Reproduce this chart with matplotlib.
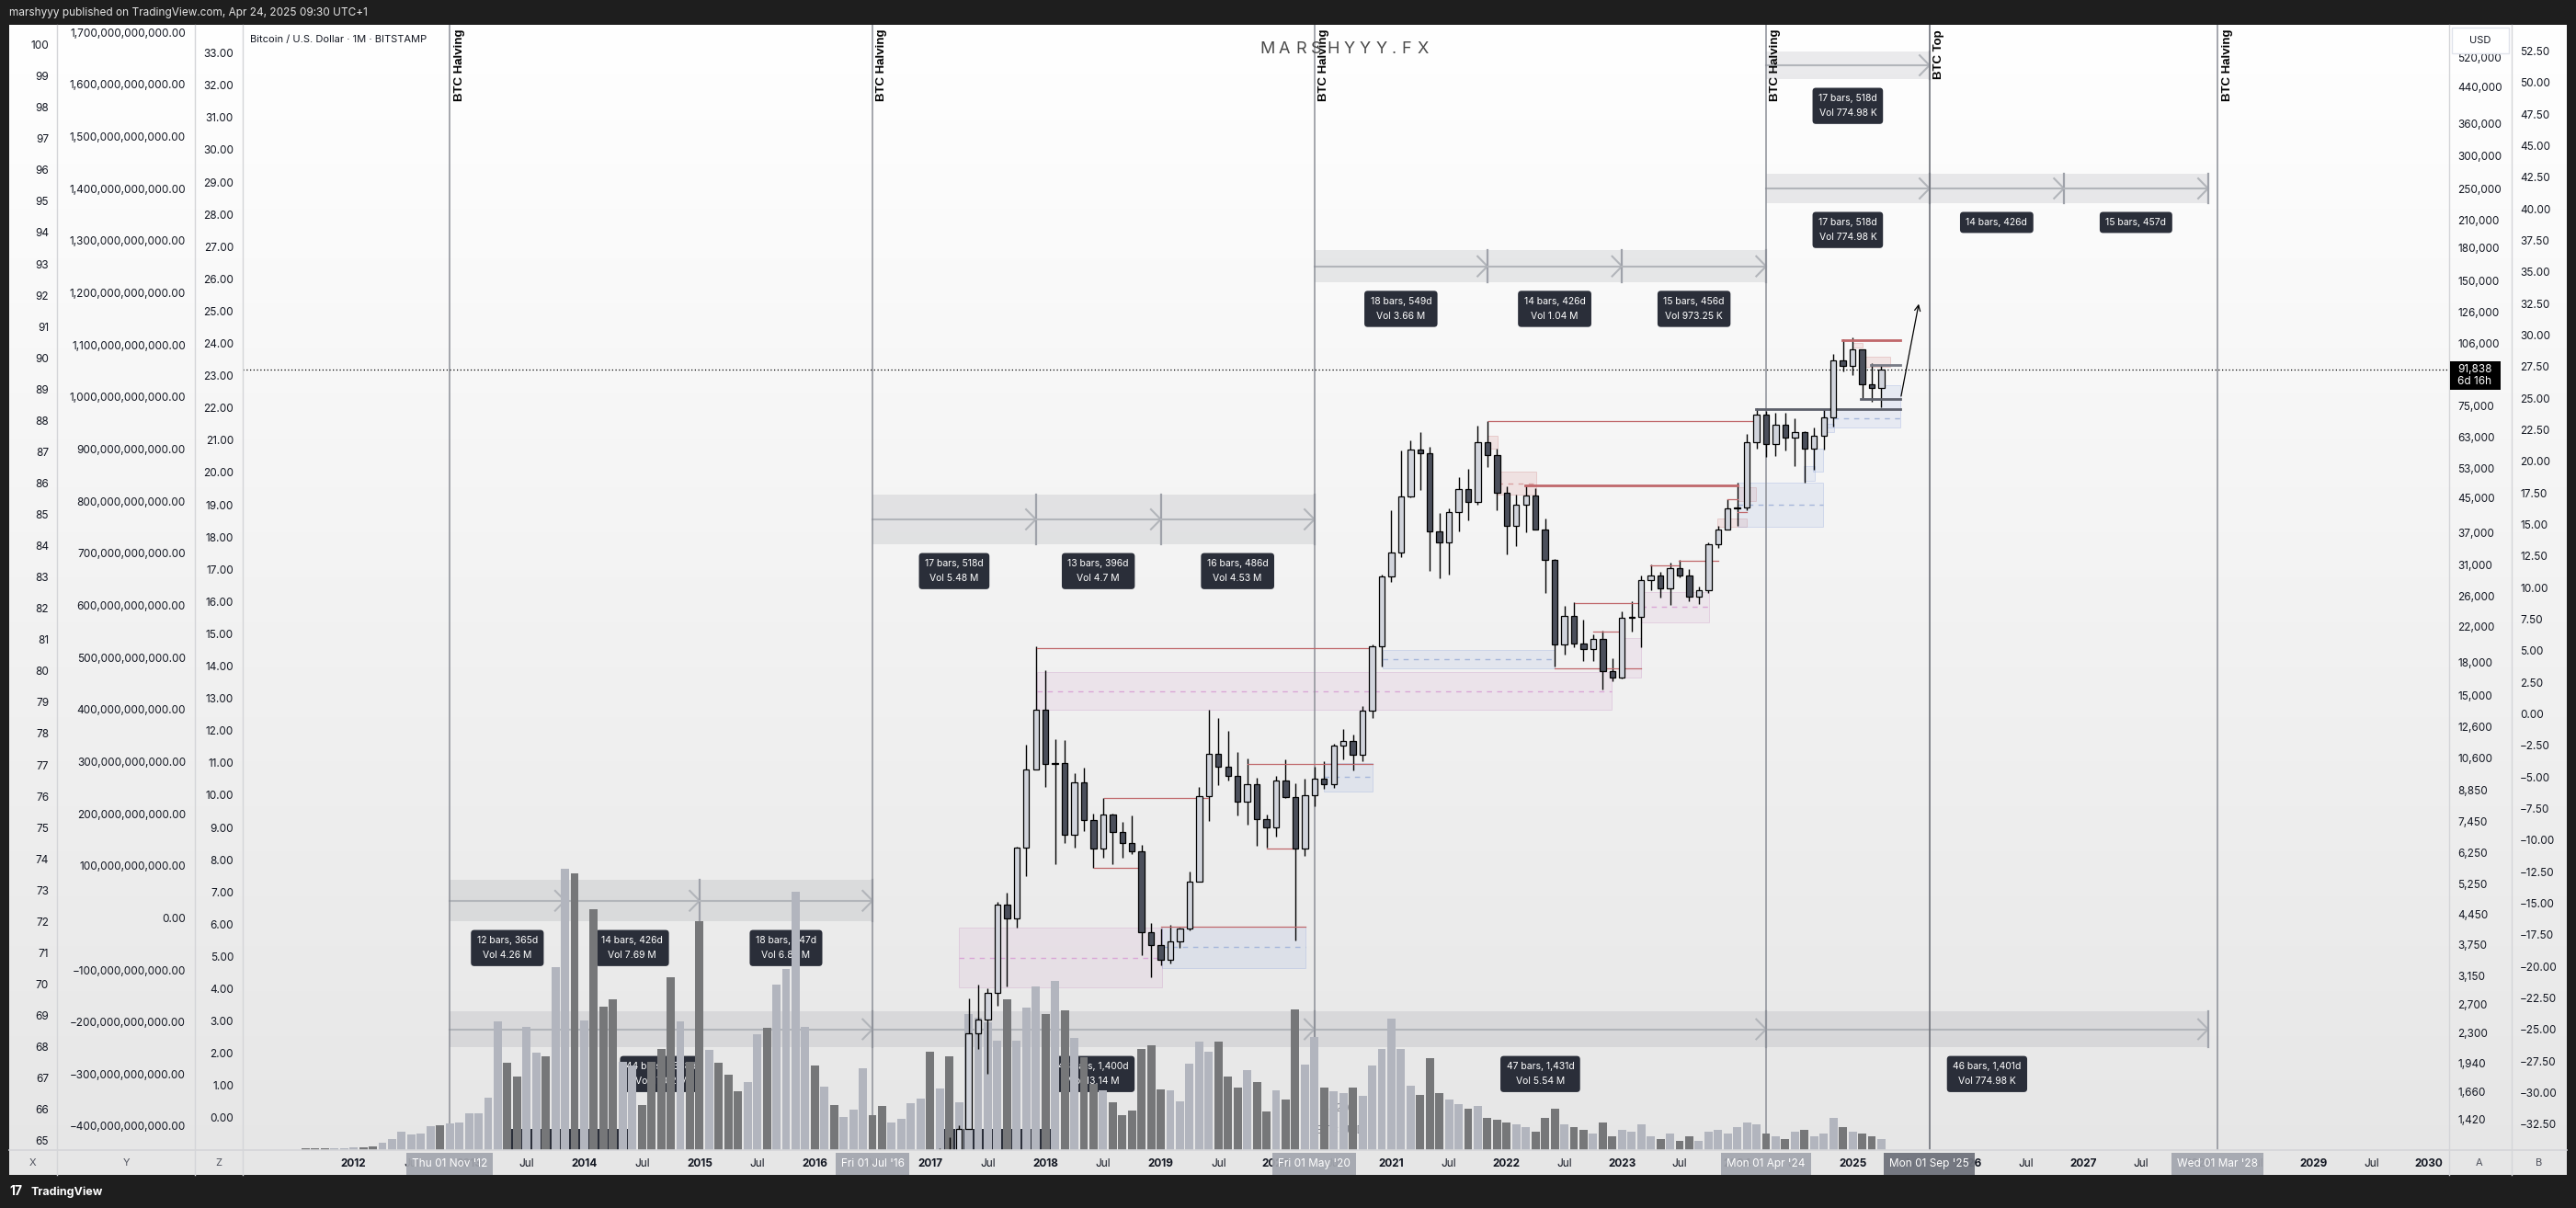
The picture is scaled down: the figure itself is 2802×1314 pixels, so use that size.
import matplotlib
matplotlib.use("Agg")
import matplotlib.pyplot as plt
import numpy as np
from matplotlib.colors import LinearSegmentedColormap
from matplotlib.lines import Line2D
from matplotlib.patches import Rectangle

plt.rcParams['font.family'] = ['Inter', 'DejaVu Sans']

W, H = 2802, 1314

# ---------------------------------------------------------------- data
# monthly BTC/USD candles (Bitstamp, 1M), Jan 2017 .. Apr 2025
candle_opens = [966, 968, 1190, 1080, 1350, 2300, 2480, 2875, 4700, 4340, 6450, 9950,
                13880, 10220, 10320, 6920, 9240, 7490, 6390, 7730, 7020, 6620, 6300, 4020,
                3740, 3460, 3820, 4100, 5320, 8570, 10820, 10080, 9600, 8310, 9150, 7550,
                7200, 9350, 8540, 6410, 8630, 9450, 9140, 11350, 11650, 10780, 13800, 19700,
                28990, 33110, 45240, 58800, 57700, 37300, 35040, 41460, 47100, 43820, 61300, 56900,
                46200, 38480, 43180, 45510, 37640, 31790, 19930, 23300, 20050, 19420, 20490, 17170,
                16540, 23130, 23150, 28470, 29250, 27220, 30470, 29230, 25940, 26960, 34650, 37720,
                42280, 42580, 61130, 71330, 60640, 67490, 62760, 64630, 58970, 63330, 70280, 96450,
                93400, 102400, 84350, 82550]
candle_highs = [1150, 1210, 1290, 1380, 2790, 3000, 2950, 4760, 5000, 6470, 11400, 19666,
                17250, 11790, 11710, 9750, 10020, 7780, 8500, 7760, 7410, 7680, 6550, 4240,
                4110, 4200, 4120, 5640, 9000, 13880, 13200, 12330, 10950, 10540, 9510, 7750,
                9580, 10500, 9190, 9460, 10080, 10400, 11440, 12470, 12090, 14100, 19900, 29300,
                41950, 58350, 61790, 64900, 59600, 41300, 42300, 50500, 52900, 67000, 69000, 59100,
                47900, 45800, 48200, 47400, 40000, 31990, 24670, 25200, 22800, 21100, 21480, 18400,
                23950, 25250, 29200, 31000, 29800, 31400, 31800, 30200, 27500, 35000, 38400, 44700,
                49000, 64000, 73800, 72800, 72000, 72000, 70000, 65100, 66500, 73600, 99800, 108300,
                109400, 102500, 95000, 93800]
candle_lows = [750, 920, 890, 1060, 1350, 2100, 1830, 2670, 2980, 4120, 5500, 9950,
               9000, 5870, 6600, 6430, 7060, 5750, 6070, 5880, 6100, 6200, 3550, 3130,
               3350, 3390, 3690, 4070, 5330, 7460, 9100, 9330, 7710, 7300, 6510, 6430,
               6860, 8470, 3850, 6160, 8100, 8920, 8990, 10530, 9880, 10380, 13200, 17570,
               28130, 32380, 44960, 47000, 30000, 28800, 29300, 37300, 39600, 43300, 53300, 42000,
               32900, 34300, 37200, 37600, 26500, 17600, 18800, 19550, 18130, 18200, 15480, 16250,
               16500, 21400, 19570, 26940, 25800, 24800, 28900, 25300, 24900, 26550, 34100, 37600,
               38500, 41900, 59000, 56500, 56600, 58400, 53500, 49000, 52600, 58900, 66800, 90500,
               89100, 78200, 76600, 74500]
candle_closes = [968, 1190, 1080, 1350, 2300, 2480, 2875, 4700, 4340, 6450, 9950, 13880,
                 10220, 10320, 6920, 9240, 7490, 6390, 7730, 7020, 6620, 6300, 4020, 3740,
                 3460, 3820, 4100, 5320, 8570, 10820, 10080, 9600, 8310, 9150, 7550, 7200,
                 9350, 8540, 6410, 8630, 9450, 9140, 11350, 11650, 10780, 13800, 19700, 28990,
                 33110, 45240, 58800, 57700, 37300, 35040, 41460, 47100, 43820, 61300, 56900, 46200,
                 38480, 43180, 45510, 37640, 31790, 19930, 23300, 20050, 19420, 20490, 17170, 16540,
                 23130, 23180, 28470, 29250, 27220, 30470, 29230, 25940, 26960, 34650, 37720, 42280,
                 42580, 61130, 71330, 60640, 67490, 62760, 64630, 58970, 63330, 70280, 96450, 93400,
                 102400, 84350, 82550, 91838]

# monthly volume in thousand BTC, Aug 2011 .. Apr 2025
volume_k = [8, 8, 8, 8, 8,
            12, 12, 16, 32, 49, 81, 69, 73, 105, 109, 117, 122,
            162, 162, 231, 567, 385, 324, 543, 429, 413, 806, 1239, 1219,
            571, 1061, 632, 664, 389, 373, 198, 389, 446, 761, 567, 389,
            1008, 441, 385, 332, 259, 300, 510, 539, 729, 798, 1138, 543,
            373, 279, 198, 146, 178, 360, 154, 194, 122, 138, 207, 227,
            433, 271, 413, 211, 599, 583, 563, 482, 664, 482, 628, 721,
            599, 745, 616, 494, 409, 292, 263, 211, 154, 174, 446, 462,
            267, 263, 215, 381, 478, 433, 478, 324, 275, 352, 300, 170,
            263, 223, 620, 377, 498, 275, 259, 251, 275, 239, 373, 446,
            579, 446, 284, 243, 405, 251, 223, 203, 182, 194, 142, 134,
            122, 113, 101, 81, 142, 182, 113, 101, 89, 73, 122, 61,
            89, 81, 113, 61, 49, 73, 41, 61, 41, 81, 89, 73,
            101, 122, 113, 73, 61, 49, 81, 89, 61, 73, 142, 101,
            81, 73, 61, 49]
volume_dir = ("ddduu" + "udduuuuuuduu" + "uuuudduuduud" + "uddduuddddud" + "duddduuduuuu"
              + "duduuudduuuu" + "duduuuuuduuu" + "dududduddddd" + "duuuuudddudd"
              + "udduuduuduuu" + "uuuddduududd" + "duuddduddudd" + "uuuududduuuu"
              + "uuudududuuud" + "uddu")

halvings = [2012.833, 2016.5, 2020.333, 2024.25, 2028.167]
halving_dates = ["Thu 01 Nov '12", "Fri 01 Jul '16", "Fri 01 May '20", "Mon 01 Apr '24", "Wed 01 Mar '28"]
btc_top = 2025.667
btc_top_date = "Mon 01 Sep '25"
last_price = 91838

# date range tools: boundaries (year), band low / high price, labels
range_a_x = [2012.833, 2013.833, 2015.0, 2016.5]
range_a_band = (4277, 5370)
range_a_labels = ["12 bars, 365d\nVol 4.26 M", "14 bars, 426d\nVol 7.69 M", "18 bars, 547d\nVol 6.82 M"]
range_b_x = [2012.833, 2016.5, 2020.333, 2024.25, 2028.083]
range_b_band = (2124, 2593)
range_b_labels = ["44 bars, 1,338d\nVol 17.02 M", "46 bars, 1,400d\nVol 13.14 M",
                  "47 bars, 1,431d\nVol 5.54 M", "46 bars, 1,401d\nVol 774.98 K"]
range_c_x = [2016.5, 2017.917, 2019.0, 2020.333]
range_c_band = (34720, 45800)
range_c_labels = ["17 bars, 518d\nVol 5.48 M", "13 bars, 396d\nVol 4.7 M", "16 bars, 486d\nVol 4.53 M"]
range_d_x = [2020.333, 2021.833, 2023.0, 2024.25]
range_d_band = (149000, 177600)
range_d_labels = ["18 bars, 549d\nVol 3.66 M", "14 bars, 426d\nVol 1.04 M", "15 bars, 456d\nVol 973.25 K"]
range_e_x = [2024.25, 2025.667]
range_e_band = (460300, 536500)
range_e_labels = ["17 bars, 518d\nVol 774.98 K"]
range_f_x = [2024.25, 2025.667, 2026.833, 2028.083]
range_f_band = (231000, 272000)
range_f_labels = ["17 bars, 518d\nVol 774.98 K", "14 bars, 426d", "15 bars, 457d"]

# zones: x0, x1 (year), low, high (price)
pink_zones = [(2017.923, 2022.908, 13820, 17100), (2017.25, 2019.008, 2960, 4126),
              (2023.164, 2023.752, 22490, 26690), (2022.997, 2023.164, 16560, 20670)]
red_zones = [(2021.835, 2021.919, 59210, 63450), (2021.919, 2022.253, 45750, 51960),
             (2024.0, 2024.162, 44210, 47620), (2023.83, 2024.08, 38250, 40050),
             (2025.0, 2025.088, 103600, 106500), (2025.08, 2025.327, 93030, 98670)]
blue_zones = [(2020.922, 2022.417, 17420, 19300), (2019.008, 2020.252, 3303, 4158),
              (2020.415, 2020.837, 8808, 10316), (2024.0, 2024.748, 38250, 48920),
              (2024.748, 2025.417, 66300, 73720), (2024.657, 2024.748, 52110, 59210),
              (2024.574, 2024.67, 49400, 53600), (2024.748, 2024.837, 64750, 67900),
              (2025.247, 2025.417, 73720, 84030)]
# levels: x0, x1, price
red_levels = [(2017.923, 2020.83, 19540), (2019.0, 2020.252, 4150), (2018.507, 2019.41, 8460),
              (2018.422, 2018.813, 5766), (2019.753, 2020.837, 10265), (2019.917, 2020.16, 6402),
              (2021.84, 2024.155, 68870), (2022.589, 2023.167, 25040), (2022.749, 2022.98, 21370),
              (2022.417, 2023.167, 17470), (2023.247, 2023.494, 30800), (2023.494, 2023.834, 31660),
              (2023.916, 2024.0, 44600), (2024.0, 2024.082, 41540)]
red_levels_bold = [(2022.161, 2024.003, 48130), (2024.909, 2025.417, 108100)]
dark_levels = [(2024.162, 2025.417, 73720), (2025.072, 2025.417, 77970)]
gray_levels = [(2025.159, 2025.417, 94100)]
projection = [(2025.417, 77970), (2025.578, 133800)]

price_ticks = [520000, 440000, 360000, 300000, 250000, 210000, 180000, 150000, 126000, 106000,
               75000, 63000, 53000, 45000, 37000, 31000, 26000, 22000, 18000, 15000, 12600,
               10600, 8850, 7450, 6250, 5250, 4450, 3750, 3150, 2700, 2300, 1940, 1660, 1420]

# ---------------------------------------------------------------- layout helpers
def box(x0, y0, x1, y1):
    return [x0 / W, 1 - y1 / H, (x1 - x0) / W, (y1 - y0) / H]

def fx(x):
    return x / W

def fy(y):
    return 1 - y / H

def neg(s):
    return s.replace('-', '\u2212')

XLIM = (2011.038, 2030.174)
YLIM = (1199.3, 622160)
PLOT = (264, 27, 2664, 1251)
INK = '#131722'

fig = plt.figure(figsize=(W / 100, H / 100), dpi=100, facecolor='#1e1e1e')

# panel background with soft vertical gradient
ax_bg = fig.add_axes(box(10, 27, 2792, 1278))
grad = LinearSegmentedColormap.from_list('g', ['#ffffff', '#e6e6e6'])
ax_bg.imshow(np.linspace(0, 1, 256).reshape(-1, 1), cmap=grad, aspect='auto', extent=(0, 1, 0, 1))
ax_bg.set_axis_off()
ax_bg.set_zorder(0)

def layer(z, log=True):
    a = fig.add_axes(box(*PLOT))
    a.set_xlim(XLIM)
    if log:
        a.set_yscale('log')
        a.set_ylim(YLIM)
    a.set_axis_off()
    a.patch.set_visible(False)
    a.set_zorder(z)
    return a

ax_a = layer(2)
ax_v = layer(3, log=False)
ax_b = layer(4)

# ---------------------------------------------------------------- zones
def zone(ax, z, fc, ec, dash):
    x0, x1, lo, hi = z
    ax.add_patch(Rectangle((x0, lo), x1 - x0, hi - lo, facecolor=fc, edgecolor=ec, lw=0.7))
    if x1 - x0 > 0.3:
        ax.plot([x0, x1], [np.sqrt(lo * hi)] * 2, color=dash, lw=1.0, ls=(0, (4, 4)))

for z in pink_zones:
    zone(ax_a, z, (0.86, 0.72, 0.84, 0.22), (0.80, 0.62, 0.78, 0.35), '#d9a6d6')
for z in red_zones:
    zone(ax_a, z, (0.87, 0.62, 0.62, 0.22), (0.82, 0.55, 0.55, 0.35), '#d9a0a0')
for z in blue_zones:
    zone(ax_a, z, (0.62, 0.70, 0.88, 0.18), (0.55, 0.64, 0.85, 0.30), '#a5b6da')

# ---------------------------------------------------------------- date range tools
CHEV_X = 0.085
CHEV_Y = 1.057

def date_range(xs, band, labels):
    lo, hi = band
    mid = np.sqrt(lo * hi)
    for i in range(len(xs) - 1):
        x0, x1 = xs[i], xs[i + 1]
        ax_a.add_patch(Rectangle((x0, lo), x1 - x0, hi - lo, facecolor='#787b86', alpha=0.15, lw=0))
        ax_a.plot([x0, x1], [mid, mid], color='#b2b5ba', lw=1.5)
        ax_a.plot([x1 - CHEV_X, x1, x1 - CHEV_X], [mid * CHEV_Y, mid, mid / CHEV_Y], color='#b2b5ba', lw=1.5)
        ax_a.plot([x1, x1], [lo, hi], color='#9fa2aa', lw=1.6)
        ax_a.annotate(labels[i], xy=((x0 + x1) / 2, lo), xytext=(0, -11.5), textcoords='offset points',
                      ha='center', va='top', fontsize=7.5, color='white', linespacing=1.8,
                      multialignment='center',
                      bbox=dict(boxstyle='round,pad=0.62,rounding_size=0.35', fc='#2a2e39', ec='none'))

date_range(range_a_x, range_a_band, range_a_labels)
date_range(range_b_x, range_b_band, range_b_labels)
date_range(range_c_x, range_c_band, range_c_labels)
date_range(range_d_x, range_d_band, range_d_labels)
date_range(range_e_x, range_e_band, range_e_labels)
date_range(range_f_x, range_f_band, range_f_labels)

# half hidden labels sitting under the volume
for bx0, bx1 in [(551, 683), (1018, 1143)]:
    ax_a.add_patch(Rectangle((fx(bx0), fy(1251)), (bx1 - bx0) / W, 23 / H, transform=fig.transFigure,
                             facecolor='#2a2e39', lw=0, clip_on=False))
ax_a.text(fx(1438), fy(1206), '1,420', transform=fig.transFigure, fontsize=8.5, color='#8a8c94',
          ha='left', va='center')
ax_a.text(fx(1432), fy(1230), 'BTC USD', transform=fig.transFigure, fontsize=8.5, color='#8a8c94',
          ha='left', va='center')

# ---------------------------------------------------------------- event lines
for x in halvings:
    ax_a.axvline(x, color='#8c8f97', lw=1.1)
    ax_a.annotate('BTC Halving', xy=(x, 1), xycoords=('data', 'axes fraction'), xytext=(3.2, -3.6),
                  textcoords='offset points', rotation=90, ha='left', va='top', fontsize=9.5,
                  fontweight='bold', family=['Liberation Sans', 'DejaVu Sans'], color='#000000')
ax_a.axvline(btc_top, color='#6f727a', lw=1.2)
ax_a.annotate('BTC Top', xy=(btc_top, 1), xycoords=('data', 'axes fraction'), xytext=(3.2, -3.6),
              textcoords='offset points', rotation=90, ha='left', va='top', fontsize=9.5,
              fontweight='bold', family=['Liberation Sans', 'DejaVu Sans'], color='#000000')

# ---------------------------------------------------------------- volume
tv = 2011 + 7 / 12 + np.arange(len(volume_k)) / 12
vcol = ['#b2b5be' if d == 'u' else '#767779' for d in volume_dir]
ax_v.bar(tv, volume_k, width=0.071, color=vcol, lw=0)
ax_v.set_ylim(0, 4957)

# ---------------------------------------------------------------- candles
o = np.array(candle_opens, float)
hgh = np.array(candle_highs, float)
low = np.array(candle_lows, float)
c = np.array(candle_closes, float)
tc = 2017 + np.arange(len(o)) / 12
up = c >= o
ax_b.vlines(tc, low, hgh, color='#000000', lw=1.0, zorder=2)
ax_b.bar(tc, np.maximum(np.abs(c - o), o * 0.004), bottom=np.minimum(o, c), width=0.051,
         color=np.where(up, '#d1d4dc', '#4b4f5b'), edgecolor='#000000', lw=0.9, zorder=3)

for x0, x1, p in red_levels:
    ax_b.plot([x0, x1], [p, p], color='#c0686b', lw=0.9)
for x0, x1, p in red_levels_bold:
    ax_b.plot([x0, x1], [p, p], color='#c0686b', lw=2.0)
for x0, x1, p in dark_levels:
    ax_b.plot([x0, x1], [p, p], color='#5d606b', lw=2.0)
for x0, x1, p in gray_levels:
    ax_b.plot([x0, x1], [p, p], color='#787b86', lw=2.0)
ax_b.annotate('', xy=projection[1], xytext=projection[0],
              arrowprops=dict(arrowstyle='->', color='#000000', lw=0.9, mutation_scale=11))
ax_b.axhline(last_price, color='#000000', lw=0.9, ls=(0, (1, 2)))

# ---------------------------------------------------------------- scales
def side_axis(x_edge, lim, ticks, labels, side, log=False):
    a = fig.add_axes(box(x_edge, 27, x_edge + 1, 1251))
    if log:
        a.set_yscale('log')
    a.set_ylim(lim)
    a.set_xticks([])
    a.yaxis.set_ticks_position(side)
    a.set_yticks(ticks)
    a.set_yticklabels(labels)
    a.yaxis.set_minor_locator(plt.NullLocator())
    a.tick_params(axis='y', which='both', length=0, pad=0, labelsize=8.5, labelcolor=INK)
    a.patch.set_visible(False)
    for s in a.spines.values():
        s.set_visible(False)
    a.set_zorder(1)
    return a

c1 = list(range(65, 101))
side_axis(53, (64.70, 100.634), c1, [str(v) for v in c1], 'left')
c2 = [i * 100_000_000_000 for i in range(-4, 18)]
side_axis(202, (-4.459e11, 17.143e11), c2, [neg(f"{v:,.2f}") for v in c2], 'left')
c3 = list(range(0, 34))
side_axis(254, (-1.0, 33.872), c3, [f"{v:.2f}" for v in c3], 'left')
side_axis(2672, YLIM, price_ticks, [f"{v:,}" for v in price_ticks], 'right', log=True)
r2 = np.arange(-32.5, 52.6, 2.5)
side_axis(2740, (-34.54, 54.58), r2, [neg(f"{v:.2f}") for v in r2], 'right')

# ---------------------------------------------------------------- time axis
axt = fig.add_axes(box(264, 1251, 2664, 1278))
axt.set_xlim(XLIM)
axt.set_ylim(0, 1)
axt.set_axis_off()
axt.set_zorder(5)
for yr in range(2012, 2031):
    axt.text(yr, 0.45, str(yr), ha='center', va='center', fontsize=8.5, fontweight='bold', color=INK)
    if yr < 2030:
        axt.text(yr + 0.5, 0.45, 'Jul', ha='center', va='center', fontsize=8.5, color=INK)
for x, lab in zip(halvings, halving_dates):
    axt.text(x, 0.45, lab, ha='center', va='center', fontsize=8.5, color='white',
             bbox=dict(boxstyle='square,pad=0.5', fc='#a3a6ae', ec='none', alpha=0.93))
axt.text(btc_top, 0.45, btc_top_date, ha='center', va='center', fontsize=8.5, color='white',
         bbox=dict(boxstyle='square,pad=0.5', fc='#6f727c', ec='none', alpha=0.95))

for lab, x in [('X', 36), ('Y', 137), ('Z', 237.5), ('A', 2697), ('B', 2762)]:
    fig.text(fx(x), fy(1265), lab, ha='center', va='center', fontsize=8, color='#50535e', zorder=10)

# separators
for x in [62, 212, 263.5, 2664, 2732]:
    fig.add_artist(Line2D([fx(x)] * 2, [fy(27), fy(1278)], color='#d4d5d8', lw=1, zorder=6))
fig.add_artist(Line2D([fx(10), fx(2792)], [fy(1251)] * 2, color='#d4d5d8', lw=1.2, zorder=6))

# ---------------------------------------------------------------- texts
fig.text(fx(10), fy(13.5), 'marshyyy published on TradingView.com, Apr 24, 2025 09:30 UTC+1',
         ha='left', va='center', fontsize=8.5, color='#e6e6e6', zorder=10)
fig.text(fx(272), fy(43), 'Bitcoin / U.S. Dollar \u00b7 1M \u00b7 BITSTAMP', ha='left', va='center',
         fontsize=8, color=INK, zorder=10)
wm_x = [1379, 1397, 1415, 1432, 1450, 1468, 1485, 1503, 1516, 1530, 1548]
for ch, x in zip('MARSHYYY.FX', wm_x):
    fig.text(fx(x), fy(54), ch, ha='center', va='center', fontsize=13,
             color='#4a4a4a', zorder=10)
fig.text(fx(10), fy(1296), '17', ha='left', va='center', fontsize=10, fontweight='bold',
         color='white', zorder=10)
fig.text(fx(33), fy(1297), 'TradingView', ha='left', va='center', fontsize=9, fontweight='bold',
         color='white', zorder=10)

fig.add_artist(Rectangle((fx(2667), fy(58)), 62 / W, 28 / H, transform=fig.transFigure,
                         facecolor='white', edgecolor='#e0e3eb', lw=1, zorder=9))
fig.text(fx(2698), fy(44), 'USD', ha='center', va='center', fontsize=8, color=INK, zorder=10)
fig.add_artist(Rectangle((fx(2665), fy(424)), 55 / W, 31 / H, transform=fig.transFigure,
                         facecolor='#000000', lw=0, zorder=9))
fig.text(fx(2673), fy(408.5), f"{last_price:,}\n6d 16h", ha='left', va='center', fontsize=8.5,
         color='white', linespacing=1.05, zorder=10)

fig.savefig('out.png', dpi=100, facecolor=fig.get_facecolor())
